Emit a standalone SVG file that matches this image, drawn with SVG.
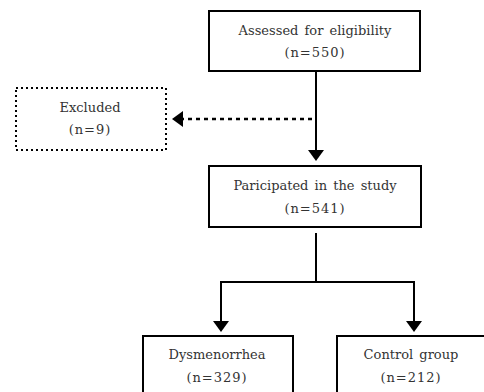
<svg xmlns="http://www.w3.org/2000/svg" width="484" height="392" viewBox="0 0 484 392">
<style>
.box{fill:#fff;stroke:#000;stroke-width:2}
.dot{fill:#fff;stroke:#000;stroke-width:2;stroke-dasharray:2 3}
.t{font-family:'DejaVu Serif',serif;font-size:13px;fill:#333;text-anchor:middle;word-spacing:2px}
.n{letter-spacing:1px}
.ln{stroke:#000;stroke-width:2;fill:none}
.dl{stroke:#000;stroke-width:2.5;fill:none;stroke-dasharray:4 4}
</style>
<g id="connectors">
<line class="ln" x1="316" y1="71" x2="316" y2="150"/>
<path d="M308,150 L324,150 L316,161 Z" fill="#000"/>
<line class="dl" x1="312" y1="119" x2="182" y2="119"/>
<path d="M183,111 L183,127 L172,119 Z" fill="#000"/>
<line class="ln" x1="316" y1="233" x2="316" y2="282"/>
<path class="ln" d="M221,322 L221,282 L414,282 L414,322"/>
<path d="M213,321 L229,321 L221,332 Z" fill="#000"/>
<path d="M406,321 L422,321 L414,332 Z" fill="#000"/>
</g>
<g id="assessed">
<rect class="box" x="209" y="11" width="211" height="60"/>
<text class="t" x="315" y="35">Assessed for eligibility</text>
<text class="t n" x="315" y="57">(n=550)</text>
</g>
<g id="excluded">
<rect class="dot" x="16" y="88" width="150" height="62"/>
<text class="t" x="90" y="112">Excluded</text>
<text class="t n" x="90" y="134">(n=9)</text>
</g>
<g id="participated">
<rect class="box" x="209" y="166" width="212" height="61"/>
<text class="t" x="315" y="190">Paricipated in the study</text>
<text class="t n" x="315" y="213">(n=541)</text>
</g>
<g id="dysmenorrhea">
<rect class="box" x="143" y="336" width="150" height="70"/>
<text class="t" x="217" y="359">Dysmenorrhea</text>
<text class="t n" x="217" y="382">(n=329)</text>
</g>
<g id="control">
<rect class="box" x="337" y="336" width="160" height="70"/>
<text class="t" x="411" y="359">Control group</text>
<text class="t n" x="411" y="382">(n=212)</text>
</g>
</svg>
